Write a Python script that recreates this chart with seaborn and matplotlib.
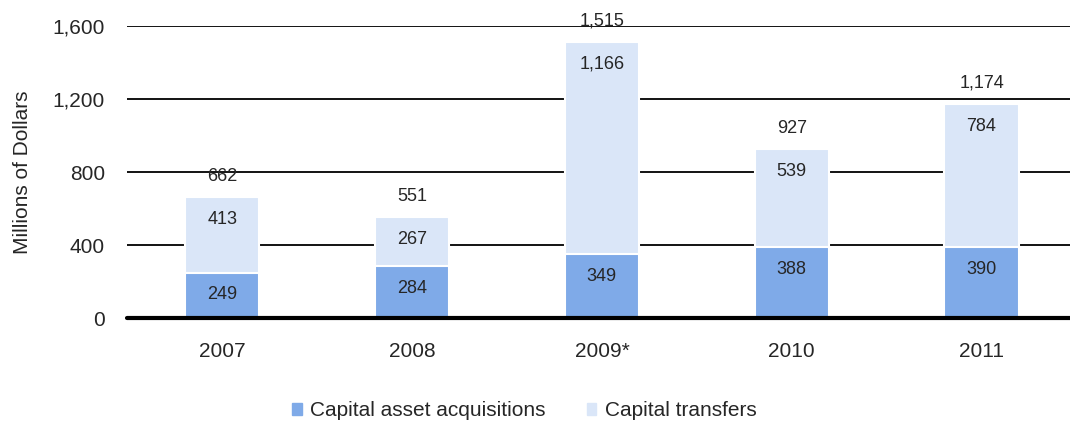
import pandas as pd
import matplotlib
matplotlib.use("Agg")
import matplotlib.pyplot as plt
import seaborn as sns
from matplotlib.patches import Patch

years = ["2007", "2008", "2009*", "2010", "2011"]
acquisitions = [249, 284, 349, 388, 390]
transfers = [413, 267, 1166, 539, 784]
totals = [662, 551, 1515, 927, 1174]

DARK = "#7faae8"
LIGHT = "#dae6f8"

sns.set_style("white")
plt.rcParams["font.family"] = ["Liberation Sans", "DejaVu Sans"]

df = pd.DataFrame({"year": years, "acq": acquisitions, "tr": transfers, "total": totals})

fig = plt.figure(figsize=(10.7, 4.28), dpi=100)
ax = fig.add_axes([0.119, 0.257, 0.887, 0.682])

# light bar = full total, dark bar drawn over the bottom part
sns.barplot(data=df, x="year", y="total", color=LIGHT, width=0.39,
            edgecolor="white", linewidth=1.5, saturation=1, ax=ax, zorder=3)
sns.barplot(data=df, x="year", y="acq", color=DARK, width=0.39,
            edgecolor="white", linewidth=1.5, saturation=1, ax=ax, zorder=4)

ax.set_ylim(0, 1600)
ax.set_xlim(-0.5, 4.5)
ax.set_yticks([0, 400, 800, 1200, 1600])
ax.set_yticklabels([f"{v:,}" for v in [0, 400, 800, 1200, 1600]], fontsize=15)
ax.tick_params(axis="x", labelsize=15, pad=17, length=0)
ax.tick_params(axis="y", length=0, pad=16)
ax.set_xlabel("")
ax.set_ylabel("Millions of Dollars", fontsize=15, labelpad=15)

for y in [400, 800, 1200, 1600]:
    ax.axhline(y, color="black", lw=1.3, zorder=1)
ax.axhline(0, color="black", lw=3, zorder=5, clip_on=False)
sns.despine(ax=ax, left=True, bottom=True)

for i in range(len(years)):
    a, t, tot = acquisitions[i], transfers[i], totals[i]
    ax.annotate(f"{a:,}", (i, a), xytext=(0, -16), textcoords="offset points",
                ha="center", va="center", fontsize=13, zorder=6)
    ax.annotate(f"{t:,}", (i, tot), xytext=(0, -16), textcoords="offset points",
                ha="center", va="center", fontsize=13, zorder=6)
    ax.annotate(f"{tot:,}", (i, tot), xytext=(0, 15), textcoords="offset points",
                ha="center", va="center", fontsize=13, zorder=6,
                annotation_clip=False)

handles = [Patch(color=DARK, label="Capital asset acquisitions"),
           Patch(color=LIGHT, label="Capital transfers")]
fig.legend(handles=handles, loc="center", bbox_to_anchor=(0.49, 0.04), ncol=2,
           frameon=False, fontsize=15, handlelength=0.45, handleheight=0.45,
           handletextpad=0.4, columnspacing=2.0)

fig.savefig("out.png", dpi=100)
